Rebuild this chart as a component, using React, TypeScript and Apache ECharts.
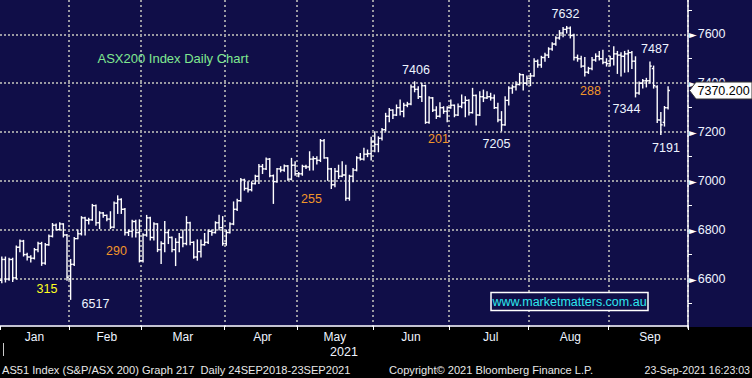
import React, { useEffect, useRef } from "react";
import * as echarts from "echarts";

// ---------- data ----------
const monthNames = ["Jan", "Feb", "Mar", "Apr", "May", "Jun", "Jul", "Aug", "Sep"];
const monthTradingDays = [19, 20, 23, 20, 21, 21, 22, 22, 22];
const yearLabel = "2021";

const opens = [
  6595, 6680, 6600, 6680, 6605, 6730, 6755, 6700, 6690, 6685, 6720, 6745, 6665, 6740, 6775, 6820, 6802, 6825, 6780,
  6600, 6660, 6765, 6785, 6850, 6840, 6842, 6900, 6830, 6870, 6860, 6845, 6812, 6910, 6925, 6885, 6790, 6795, 6835, 6790,
  6675, 6780, 6850, 6770, 6825, 6720, 6745, 6790, 6770, 6720, 6750, 6770, 6745, 6830, 6750, 6690, 6712, 6740, 6750, 6795, 6790, 6830, 6810,
  6745, 6790, 6825, 6885, 6920, 7005, 6970, 6965, 6990, 7020, 7060, 7050, 7090, 7022, 6998, 7050, 7045, 7062, 7008, 7065,
  7030, 7030, 7060, 7058, 7090, 7092, 7085, 7165, 7095, 7050, 6985, 7040, 7020, 7025, 6930, 7020, 7045, 7095, 7090, 7110, 7112,
  7160, 7150, 7175, 7210, 7265, 7290, 7270, 7300, 7285, 7310, 7315, 7385, 7375, 7345, 7390, 7240, 7340, 7290, 7265, 7300, 7285,
  7300, 7310, 7270, 7305, 7320, 7330, 7280, 7350, 7270, 7345, 7340, 7345, 7340, 7300, 7250, 7230, 7330, 7380, 7385, 7395, 7435, 7400,
  7420, 7430, 7490, 7475, 7505, 7515, 7540, 7560, 7585, 7605, 7620, 7625, 7595, 7505, 7500, 7470, 7445, 7460, 7495, 7510, 7500, 7485,
  7480, 7500, 7520, 7515, 7510, 7520, 7525, 7490, 7360, 7400, 7410, 7410, 7460, 7385, 7250, 7240, 7300,
];
const highs = [
  6690, 6690, 6685, 6685, 6735, 6760, 6758, 6705, 6695, 6725, 6750, 6750, 6745, 6780, 6827, 6825, 6830, 6826, 6782,
  6680, 6770, 6800, 6855, 6852, 6848, 6905, 6902, 6875, 6872, 6862, 6875, 6915, 6940, 6928, 6888, 6800, 6840, 6840, 6842,
  6785, 6860, 6852, 6830, 6826, 6752, 6835, 6800, 6772, 6765, 6786, 6800, 6855, 6832, 6752, 6760, 6760, 6786, 6800, 6800, 6834, 6861, 6855,
  6800, 6830, 6915, 6926, 7011, 7008, 6997, 6997, 7024, 7068, 7068, 7095, 7092, 7025, 7052, 7059, 7066, 7064, 7093, 7079,
  7035, 7065, 7065, 7120, 7100, 7100, 7170, 7170, 7096, 7052, 7052, 7065, 7079, 7065, 7024, 7052, 7100, 7113, 7134, 7127, 7179,
  7202, 7181, 7215, 7277, 7297, 7292, 7311, 7331, 7318, 7322, 7393, 7406, 7386, 7400, 7392, 7345, 7342, 7304, 7320, 7304, 7304,
  7331, 7311, 7315, 7352, 7345, 7332, 7379, 7352, 7365, 7372, 7365, 7359, 7352, 7318, 7284, 7345, 7386, 7393, 7406, 7440, 7436, 7430,
  7440, 7500, 7495, 7510, 7522, 7545, 7565, 7590, 7615, 7628, 7632, 7630, 7600, 7515, 7510, 7505, 7465, 7505, 7520, 7530, 7535, 7500,
  7510, 7549, 7530, 7525, 7530, 7535, 7530, 7508, 7405, 7415, 7420, 7487, 7470, 7390, 7280, 7305, 7386,
];
const lows = [
  6585, 6588, 6595, 6590, 6600, 6712, 6694, 6678, 6670, 6682, 6712, 6656, 6660, 6738, 6772, 6800, 6800, 6772, 6595,
  6517, 6655, 6765, 6780, 6780, 6825, 6840, 6820, 6806, 6852, 6838, 6806, 6810, 6868, 6868, 6780, 6778, 6772, 6772, 6670,
  6670, 6775, 6760, 6760, 6712, 6663, 6712, 6745, 6712, 6655, 6712, 6732, 6740, 6740, 6685, 6677, 6690, 6738, 6745, 6779, 6788, 6800, 6738,
  6738, 6788, 6822, 6880, 6918, 6963, 6956, 6960, 6988, 6990, 7031, 7048, 7018, 6909, 6995, 7038, 7040, 7004, 7005, 7024,
  7018, 7024, 7052, 7045, 7045, 7070, 7080, 7093, 7004, 6970, 6977, 7011, 7018, 6922, 6922, 6997, 7042, 7086, 7086, 7100, 7086,
  7120, 7120, 7168, 7205, 7243, 7256, 7268, 7270, 7263, 7304, 7312, 7365, 7338, 7325, 7236, 7236, 7284, 7256, 7262, 7277, 7243,
  7298, 7263, 7268, 7300, 7263, 7270, 7278, 7229, 7268, 7325, 7338, 7331, 7297, 7243, 7205, 7228, 7311, 7359, 7372, 7393, 7372, 7393,
  7390, 7428, 7465, 7465, 7490, 7505, 7535, 7555, 7580, 7590, 7605, 7585, 7495, 7490, 7465, 7430, 7440, 7455, 7490, 7495, 7480, 7470,
  7470, 7474, 7440, 7430, 7445, 7447, 7460, 7344, 7355, 7380, 7385, 7400, 7380, 7240, 7191, 7225, 7295,
];
const closes = [
  6680, 6600, 6680, 6605, 6730, 6755, 6700, 6690, 6685, 6720, 6745, 6665, 6740, 6775, 6820, 6802, 6825, 6780, 6607,
  6660, 6765, 6785, 6850, 6840, 6842, 6900, 6830, 6870, 6860, 6845, 6812, 6910, 6925, 6885, 6790, 6795, 6835, 6790, 6675,
  6780, 6850, 6770, 6825, 6720, 6745, 6790, 6770, 6720, 6750, 6770, 6745, 6830, 6750, 6690, 6712, 6740, 6750, 6795, 6790, 6830, 6810, 6745,
  6790, 6825, 6885, 6920, 7005, 6970, 6965, 6990, 7020, 7060, 7050, 7090, 7022, 6998, 7050, 7045, 7062, 7008, 7065, 7030,
  7030, 7060, 7058, 7090, 7092, 7085, 7165, 7095, 7050, 6985, 7040, 7020, 7025, 6930, 7020, 7045, 7095, 7090, 7110, 7112, 7160,
  7150, 7175, 7210, 7265, 7290, 7270, 7300, 7285, 7310, 7315, 7385, 7375, 7345, 7390, 7240, 7340, 7290, 7265, 7300, 7285, 7300,
  7310, 7270, 7305, 7320, 7330, 7280, 7350, 7270, 7345, 7340, 7345, 7340, 7300, 7250, 7230, 7330, 7380, 7385, 7395, 7435, 7400, 7420,
  7430, 7490, 7475, 7505, 7515, 7540, 7560, 7585, 7605, 7620, 7625, 7595, 7505, 7500, 7470, 7445, 7460, 7495, 7510, 7500, 7485, 7480,
  7500, 7520, 7515, 7510, 7520, 7525, 7490, 7360, 7400, 7410, 7410, 7470, 7390, 7250, 7230, 7300, 7370.2,
];

// ---------- derived ----------
const categories: string[] = [];
const monthStarts = new Set<number>();
const monthLabelIdx = new Set<number>();
{
  let idx = 0;
  monthNames.forEach((m, k) => {
    const n = monthTradingDays[k];
    monthStarts.add(idx);
    monthLabelIdx.add(Math.floor((idx + idx + n) / 2));
    for (let d = 0; d < n; d++) categories.push(`${m} ${d + 1}`);
    idx += n;
  });
}
const ohlc = closes.map((c, i) => [i, opens[i], highs[i], lows[i], c]);
const lastClose = closes[closes.length - 1];

const W = 752;
const H = 378;
const GRID_RIGHT = 64;
const NAVY = "#100e48";
const GRID_COLOR = "#9a9aa2";
const TXT = "#eef4ff";
const ORANGE = "#f0962a";
const FONT = "'Liberation Sans', Arial, sans-serif";

function renderItem(_params: any, api: any) {
  const i = api.value(0);
  const o = api.coord([i, api.value(1)]);
  const h = api.coord([i, api.value(2)]);
  const l = api.coord([i, api.value(3)]);
  const c = api.coord([i, api.value(4)]);
  const half = api.size([1, 0])[0] / 2;
  const style = { stroke: "#ffffff", lineWidth: 1.4 };
  return {
    type: "group",
    children: [
      { type: "line", shape: { x1: h[0], y1: h[1] - 0.5, x2: l[0], y2: l[1] + 0.5 }, style },
      { type: "line", shape: { x1: o[0] - half, y1: o[1], x2: o[0], y2: o[1] }, style },
      { type: "line", shape: { x1: c[0], y1: c[1], x2: c[0] + half, y2: c[1] }, style },
    ],
  };
}

function txt(id: string, text: string, x: number, y: number, color: string, size = 12.5, align = "center", family = FONT) {
  return {
    type: "text",
    id,
    x,
    y,
    z: 50,
    silent: true,
    style: {
      text,
      fill: color,
      font: `${size}px ${family}`,
      textAlign: align,
      textVerticalAlign: "middle",
      align,
      verticalAlign: "middle",
    },
  };
}

const baseGraphics: any[] = [
  { type: "rect", id: "bottomBg", z: -10, silent: true, shape: { x: 0, y: 327, width: W, height: H - 327 }, style: { fill: "#000000" } },
  txt("title", "ASX200 Index Daily Chart", 173, 58, "#80e890", 13),
  txt("a315", "315", 47, 289, "#ffff20"),
  txt("a6517", "6517", 95.5, 304, TXT),
  txt("a290", "290", 116.5, 251, ORANGE),
  txt("a255", "255", 311.5, 199, ORANGE),
  txt("a7406", "7406", 416, 70, TXT),
  txt("a201", "201", 438.5, 139, ORANGE),
  txt("a7205", "7205", 496.5, 144, TXT),
  txt("a7632", "7632", 565.5, 14, TXT),
  txt("a288", "288", 590.5, 91, ORANGE),
  txt("a7344", "7344", 626.5, 108.5, TXT),
  txt("a7487", "7487", 655, 48.5, TXT),
  txt("a7191", "7191", 666, 147.5, TXT),
  { type: "rect", id: "webBox", z: 50, silent: true, shape: { x: 491, y: 292.5, width: 157, height: 18 }, style: { fill: NAVY, stroke: "#ffffff", lineWidth: 1.5 } },
  txt("web", "www.marketmatters.com.au", 569.5, 301.5, "#2ee6ee", 12.5),
  txt("year", yearLabel, 344, 352, TXT, 12.5),
  { type: "line", id: "yearTick", z: 50, silent: true, shape: { x1: 3.5, y1: 343, x2: 3.5, y2: 356 }, style: { stroke: "#cccccc", lineWidth: 1 } },
  txt("foot1", "AS51 Index (S&P/ASX 200) Graph 217  Daily 24SEP2018-23SEP2021", 2, 370, "#e8e8e8", 11.1, "left"),
  txt("foot2", "Copyright\u00a9 2021 Bloomberg Finance L.P.", 389, 370, "#e8e8e8", 11.1, "left"),
  txt("foot3", "23-Sep-2021 16:23:03", 750, 370, "#e8e8e8", 10.6, "right"),
];

const option: any = {
  animation: false,
  backgroundColor: NAVY,
  grid: { left: 0, right: GRID_RIGHT, top: 0, bottom: 50, containLabel: false },
  xAxis: {
    type: "category",
    data: categories,
    boundaryGap: true,
    offset: -2,
    axisLine: { show: true, lineStyle: { color: "#ffffff", width: 1.5 } },
    axisTick: {
      show: true,
      interval: (i: number) => monthStarts.has(i),
      length: 4,
      lineStyle: { color: "#ffffff", width: 1 },
    },
    axisLabel: {
      interval: (i: number) => monthLabelIdx.has(i),
      formatter: (v: string) => v.split(" ")[0],
      color: TXT,
      fontSize: 12,
      fontFamily: FONT,
      margin: 5,
    },
    splitLine: {
      show: true,
      interval: (i: number) => i > 0 && monthStarts.has(i),
      lineStyle: { color: GRID_COLOR, width: 2, type: [2, 3] },
    },
  },
  yAxis: {
    type: "value",
    position: "right",
    min: 6400,
    max: 7740,
    interval: 200,
    axisLine: { show: true, lineStyle: { color: "#ffffff", width: 1.5 } },
    axisTick: { show: false },
    minorTick: { show: true, splitNumber: 2, length: 4, lineStyle: { color: "#ffffff", width: 1 } },
    minorSplitLine: { show: false },
    axisLabel: {
      showMinLabel: false,
      showMaxLabel: false,
      margin: 1,
      formatter: (v: number) => `{t|\u25BA}{v|${v}}`,
      rich: {
        t: { color: "#ffffff", fontSize: 10, fontFamily: "'DejaVu Sans', sans-serif", padding: [0, 1, 0, 0] },
        v: { color: TXT, fontSize: 12.5, fontFamily: FONT },
      },
    },
    splitLine: {
      show: true,
      showMinLine: false,
      showMaxLine: false,
      lineStyle: { color: GRID_COLOR, width: 2, type: "dotted" },
    },
  },
  series: [
    {
      type: "custom",
      name: "AS51",
      renderItem,
      data: ohlc,
      encode: { x: 0, y: [1, 2, 3, 4] },
      clip: true,
      silent: true,
      z: 5,
    },
  ],
  graphic: baseGraphics,
};

export default function App() {
  const ref = useRef<HTMLDivElement>(null);
  useEffect(() => {
    if (!ref.current) return;
    const chart = echarts.init(ref.current, null, { renderer: "svg" });
    chart.setOption(option);
    const y = chart.convertToPixel({ yAxisIndex: 0 }, lastClose) as number;
    const ax = W - GRID_RIGHT;
    const box = {
      type: "group",
      id: "lastBox",
      z: 100,
      silent: true,
      children: [
        {
          type: "polygon",
          z: 100,
          shape: { points: [[ax + 1.5, y], [ax + 8, y - 8.5], [W, y - 8.5], [W, y + 8.5], [ax + 8, y + 8.5]] },
          style: { fill: "#ffffff", stroke: "#333333", lineWidth: 1 },
        },
        {
          type: "text",
          z: 101,
          x: ax + 9.5,
          y,
          style: {
            text: lastClose.toFixed(3),
            fill: "#000000",
            font: `12.5px ${FONT}`,
            textAlign: "left",
            textVerticalAlign: "middle",
            align: "left",
            verticalAlign: "middle",
          },
        },
      ],
    };
    chart.setOption({ graphic: [...baseGraphics, box] });
    return () => chart.dispose();
  }, []);
  return <div ref={ref} style={{ position: "fixed", left: 0, top: 0, width: W, height: H }} />;
}
